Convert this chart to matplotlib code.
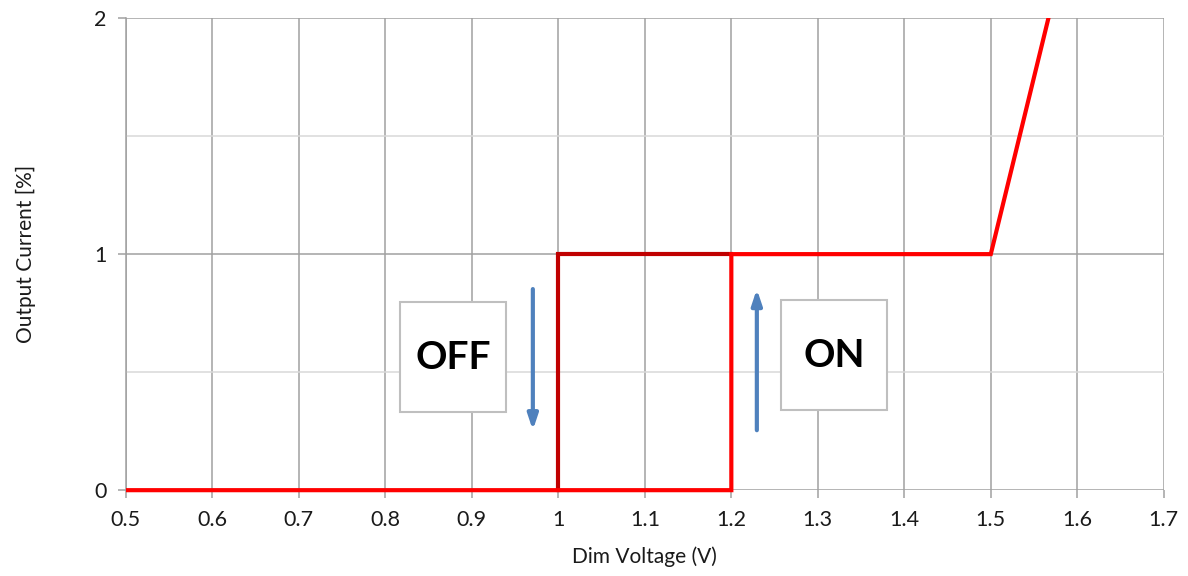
import matplotlib.pyplot as plt
from matplotlib.patches import Rectangle

# ON curve (rising dim voltage) and OFF curve (falling dim voltage)
on_v = [0.5, 1.2, 1.2, 1.5, 1.6]
on_i = [0, 0, 1, 1, 2.5]
off_v = [1.0, 1.0, 1.2]
off_i = [0, 1, 1]

x_ticks = [0.5, 0.6, 0.7, 0.8, 0.9, 1.0, 1.1, 1.2, 1.3, 1.4, 1.5, 1.6, 1.7]
x_labels = ["0.5", "0.6", "0.7", "0.8", "0.9", "1", "1.1", "1.2", "1.3", "1.4", "1.5", "1.6", "1.7"]
y_ticks = [0, 1, 2]

plt.rcParams['font.family'] = ['Lato', 'DejaVu Sans']

fig = plt.figure(figsize=(11.88, 5.76), dpi=100)
ax = fig.add_axes([0.106, 0.149, 0.8736, 0.8196])

ax.set_xlim(0.5, 1.7)
ax.set_ylim(0, 2)
ax.set_xticks(x_ticks)
ax.set_xticklabels(x_labels)
ax.set_yticks(y_ticks)
ax.set_yticks([0.5, 1.5], minor=True)

ax.grid(True, which='major', color='#a0a0a0', lw=1.1)
ax.grid(True, which='minor', axis='y', color='#d9d9d9', lw=1.1)
ax.tick_params(axis='y', which='minor', length=0)
ax.tick_params(which='major', color='#a0a0a0', length=6, width=1.1, labelsize=15.5, labelcolor='#1a1a1a', pad=8)
ax.set_axisbelow(True)
for s in ['top', 'right', 'bottom']:
    ax.spines[s].set_visible(False)
ax.spines['left'].set_color('#a0a0a0')
ax.spines['left'].set_linewidth(1.1)

ax.plot(off_v, off_i, color='#c00000', lw=3, solid_joinstyle='miter', zorder=3, clip_on=False)
l, = ax.plot(on_v, on_i, color='#ff0000', lw=3, solid_joinstyle='miter', zorder=4)
# let the zero line show full width but keep the steep ramp cut at the top
l.set_clip_path(Rectangle((0.5, -0.1), 1.2, 2.1, transform=ax.transData))

ax.set_xlabel("Dim Voltage (V)", fontsize=15, color='#1a1a1a', labelpad=12)
ax.set_ylabel("Output Current [%]", fontsize=15, color='#1a1a1a', labelpad=42)

# annotation boxes
for x0, x1, y0, y1, txt in [(0.817, 0.939, 0.331, 0.797, "OFF"), (1.257, 1.380, 0.339, 0.805, "ON")]:
    ax.add_patch(Rectangle((x0, y0), x1 - x0, y1 - y0, facecolor='white', edgecolor='#bfbfbf', lw=1.5, zorder=5))
    ax.text((x0 + x1) / 2, (y0 + y1) / 2, txt, ha='center', va='center', fontsize=28,
            fontweight='bold', color='black', zorder=6)

arrow = dict(arrowstyle='-|>,head_length=0.9,head_width=0.3', color='#4f81bd', lw=3, shrinkA=0, shrinkB=0)
ax.annotate("", xy=(0.9705, 0.254), xytext=(0.9705, 0.852), arrowprops=arrow, zorder=5)
ax.annotate("", xy=(1.2295, 0.852), xytext=(1.2295, 0.254), arrowprops=arrow, zorder=5)

fig.savefig("out.png", dpi=100)
